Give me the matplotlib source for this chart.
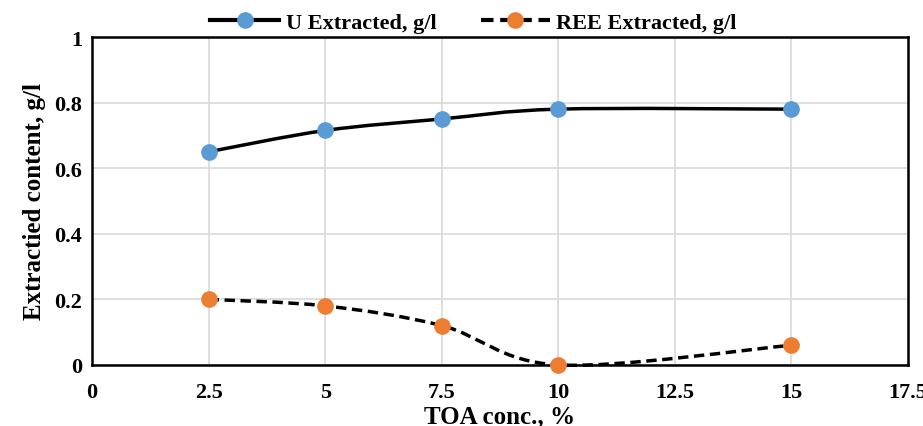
import matplotlib
matplotlib.use('Agg')
import matplotlib.pyplot as plt
from matplotlib.path import Path
from matplotlib.patches import PathPatch
from matplotlib.lines import Line2D

# data
toa = [2.5, 5, 7.5, 10, 15]
u_extracted = [0.65, 0.715, 0.75, 0.78, 0.78]
ree_extracted = [0.2, 0.18, 0.12, 0.0, 0.06]

x_ticks = [0, 2.5, 5, 7.5, 10, 12.5, 15, 17.5]
x_labels = ['0', '2.5', '5', '7.5', '10', '12.5', '15', '17.5']
y_ticks = [0, 0.2, 0.4, 0.6, 0.8, 1]
y_labels = ['0', '0.2', '0.4', '0.6', '0.8', '1']

plt.rcParams['font.family'] = ['Liberation Serif', 'DejaVu Serif']
plt.rcParams['font.weight'] = 'bold'


def smooth_path(xs, ys):
    # Excel-like smoothed line: cubic bezier through the points
    pts = list(zip(xs, ys))
    n = len(pts)
    verts = [pts[0]]
    codes = [Path.MOVETO]
    for i in range(n - 1):
        p0 = pts[i - 1] if i > 0 else pts[i]
        p1 = pts[i]
        p2 = pts[i + 1]
        p3 = pts[i + 2] if i + 2 < n else pts[i + 1]
        c1 = (p1[0] + (p2[0] - p0[0]) / 6, p1[1] + (p2[1] - p0[1]) / 6)
        c2 = (p2[0] - (p3[0] - p1[0]) / 6, p2[1] - (p3[1] - p1[1]) / 6)
        verts += [c1, c2, p2]
        codes += [Path.CURVE4] * 3
    return Path(verts, codes)


fig = plt.figure(figsize=(9.23, 4.27), dpi=100)
ax = fig.add_axes([0.0997, 0.143, 0.884, 0.768])

series = [
    (u_extracted, '#5B9BD5', '-', 'U Extracted, g/l'),
    (ree_extracted, '#ED7D31', (0, (3, 1.6)), 'REE Extracted, g/l'),
]
handles = []
for ys, col, ls, lab in series:
    ax.add_patch(PathPatch(smooth_path(toa, ys), facecolor='none', edgecolor='black',
                           linewidth=2.5, linestyle=ls, zorder=3, clip_on=False))
    ax.plot(toa, ys, linestyle='none', marker='o', markersize=11, color=col, zorder=4, clip_on=False)
    handles.append(Line2D([], [], color='black', linewidth=3, linestyle=ls, marker='o',
                          markersize=11, markerfacecolor=col, markeredgecolor=col, label=lab))

ax.set_xlim(0, 17.5)
ax.set_ylim(0, 1)
ax.set_xticks(x_ticks)
ax.set_xticklabels(x_labels)
ax.set_yticks(y_ticks)
ax.set_yticklabels(y_labels)
ax.tick_params(axis='y', length=0, labelsize=16, pad=7)
ax.tick_params(axis='x', length=0, labelsize=16, pad=12)
ax.grid(True, color='#D9D9D9', linewidth=1.2, zorder=0)
ax.set_axisbelow(True)
for s in ax.spines.values():
    s.set_linewidth(1.8)
    s.set_color('black')

ax.set_xlabel('TOA conc., %', fontsize=18, fontweight='bold', labelpad=2)
ax.set_ylabel('Extractied content, g/l', fontsize=18, fontweight='bold', labelpad=6)

fig.legend(handles=handles, loc='upper center', bbox_to_anchor=(0.513, 1.015), ncol=2,
           frameon=False, fontsize=16, handlelength=3.1, columnspacing=2.0, handletextpad=0.3)

fig.savefig('out.png', dpi=100, facecolor='white')
